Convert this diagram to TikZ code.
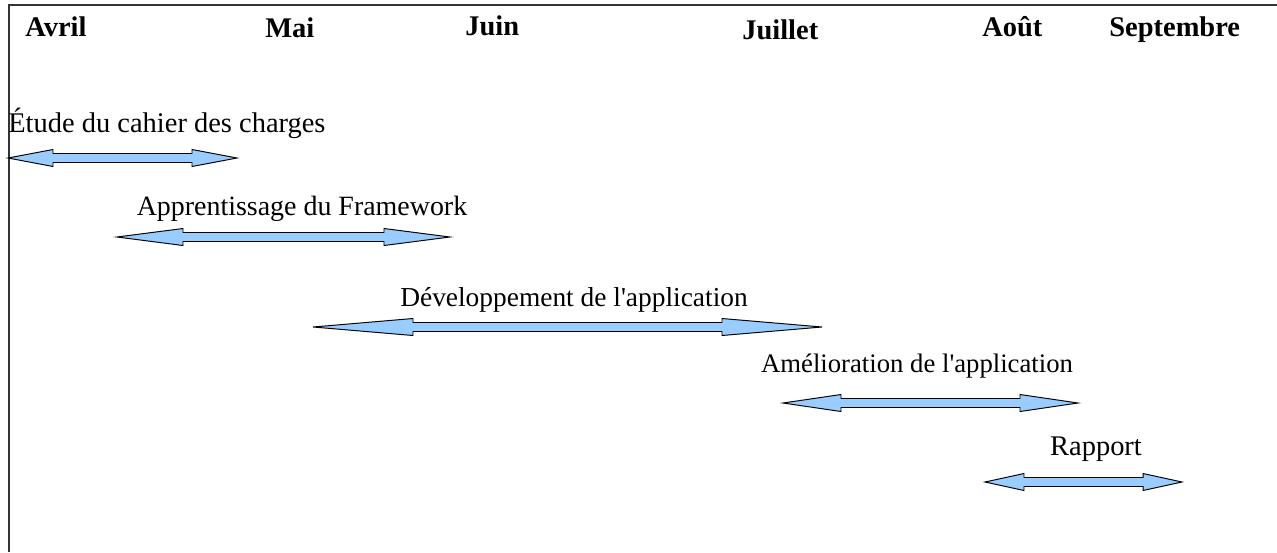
\documentclass[tikz,border=0pt]{standalone}
\usepackage{fontspec}
\setmainfont{Liberation Serif}
\definecolor{bleuclair}{HTML}{99CCFF}
\tikzset{
  fleche/.style={draw=black,fill=bleuclair,line width=0.55pt,line join=miter},
  mois/.style={anchor=base west,inner sep=0,font=\fontsize{16.2}{19}\selectfont\bfseries},
  tache/.style={anchor=base,inner sep=0,font=\fontsize{#1}{19}\selectfont},
  tache/.default=16.2
}
% double block arrow: x start, x end, y, head length
\newcommand{\duree}[4]{%
\draw[fleche] (#1,#3) -- (#1+#4,#3-8.5) -- (#1+#4,#3-4.5) -- (#2-#4,#3-4.5) -- (#2-#4,#3-8.5) -- (#2,#3)
  -- (#2-#4,#3+8.5) -- (#2-#4,#3+4.5) -- (#1+#4,#3+4.5) -- (#1+#4,#3+8.5) -- cycle;}
\begin{document}
\begin{tikzpicture}[x=0.02cm,y=-0.02cm]
\useasboundingbox (0,0) rectangle (1277,552);
\draw [line width=0.6pt,color=black!80](1277,5) -- (9,5) -- (9,552);
% months
\node [mois] (avril) at (25,36) {Avril};
\node [mois] (mai) at (265,37) {Mai};
\node [mois] (juin) at (465,35) {Juin};
\node [mois] (juillet) at (742,39) {Juillet};
\node [mois] (aout) at (982,36) {Août};
\node [mois] (septembre) at (1109,36) {Septembre};
% tasks
\node [tache,anchor=base west] (etude) at (8,132) {Étude du cahier des charges};
\duree{8}{237}{158}{45}
\node [tache=15.9] (framework) at (302,215) {Apprentissage du Framework};
\duree{117}{450}{237}{66}
\node [tache=15.6] (developpement) at (574,306) {Développement de l\textquotesingle application};
\duree{313}{822}{327}{100}
\node [tache=15.2] (amelioration) at (917,372) {Amélioration de l\textquotesingle application};
\duree{783}{1078}{403}{58}
\node [tache] (rapport) at (1096,455) {Rapport};
\duree{985}{1182}{482}{39}
\end{tikzpicture}
\end{document}
